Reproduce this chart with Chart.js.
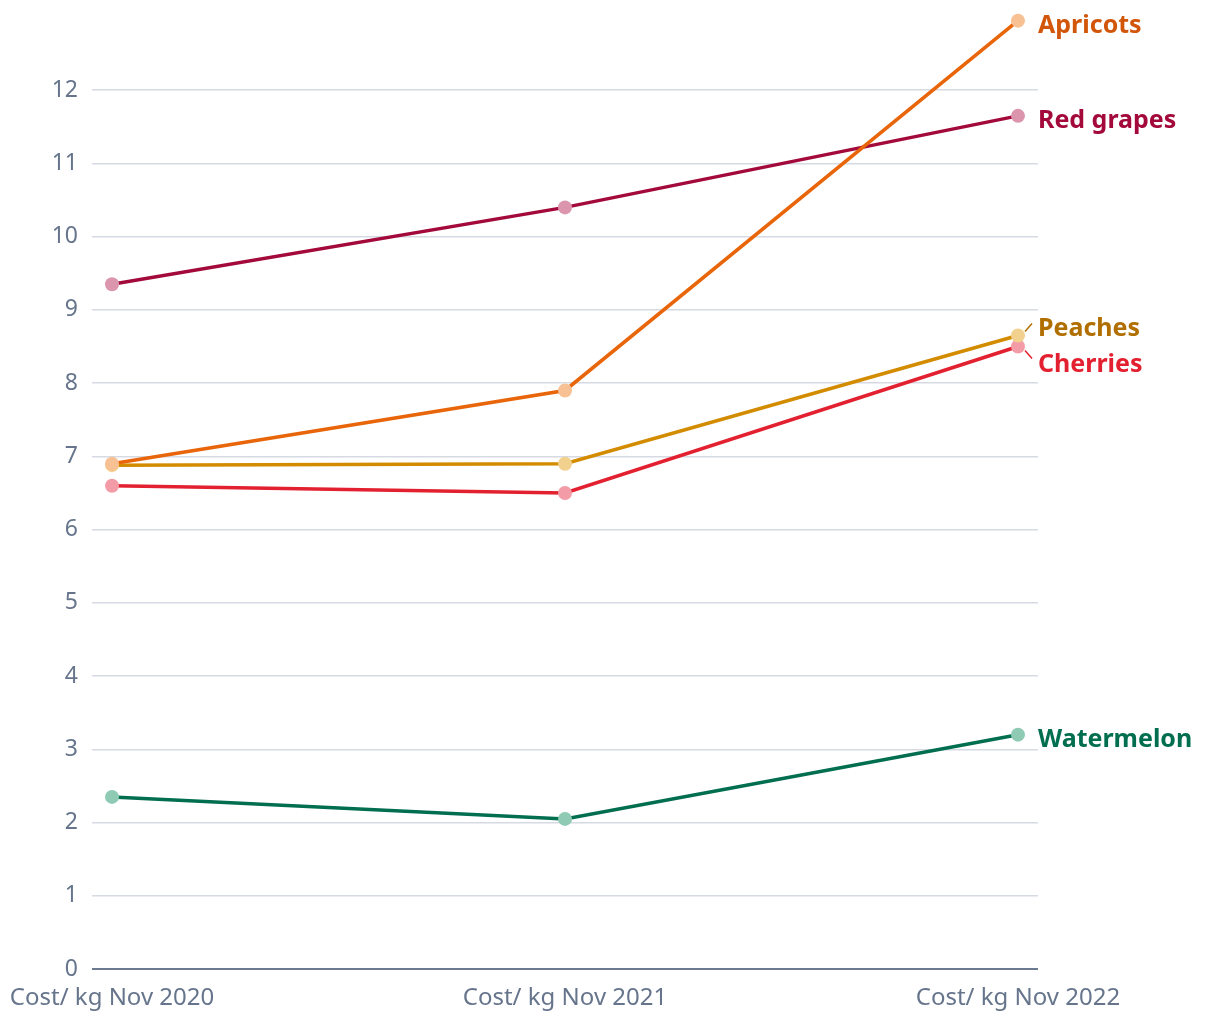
<!DOCTYPE html>
<html>
<head>
<meta charset="utf-8">
<script src="https://cdn.jsdelivr.net/npm/chart.js@4/dist/chart.umd.min.js"></script>
<style>
  html, body { margin: 0; padding: 0; background: #fff; }
  #wrap { width: 1220px; height: 1020px; }
</style>
</head>
<body>
<div id="wrap"><canvas id="chart" width="1220" height="1020"></canvas></div>
<script>
// Fruit cost per kg
const periods = ['Cost/ kg Nov 2020', 'Cost/ kg Nov 2021', 'Cost/ kg Nov 2022'];
const fruitNames = ['Apricots', 'Red grapes', 'Peaches', 'Cherries', 'Watermelon'];
const apricots = [6.9, 7.9, 12.95];
const redGrapes = [9.35, 10.4, 11.65];
const peaches = [6.88, 6.9, 8.65];
const cherries = [6.6, 6.5, 8.5];
const watermelon = [2.35, 2.05, 3.2];
const yTicks = [0, 1, 2, 3, 4, 5, 6, 7, 8, 9, 10, 11, 12];

const FONT = "'Noto Sans', sans-serif";
const TICK_COLOR = '#66758c';
const GRID_COLOR = '#d5dae3';

// line colour, point colour, label colour, label nudge
const styles = [
  { line: '#e8650a', point: '#f8c193', label: '#d2560a', dy: 5, lead: false },
  { line: '#a3093b', point: '#db95ac', label: '#a3093b', dy: 5, lead: false },
  { line: '#d38b00', point: '#f2d08e', label: '#b06f00', dy: -7, lead: true },
  { line: '#e3202f', point: '#f39ca7', label: '#e3202f', dy: 18, lead: true },
  { line: '#006e4f', point: '#8fcbb4', label: '#006e4f', dy: 5, lead: false }
];

const series = [apricots, redGrapes, peaches, cherries, watermelon];

// Labels at the end of each line
const endLabels = {
  id: 'endLabels',
  afterDatasetsDraw(chart) {
    const ctx = chart.ctx;
    ctx.save();
    ctx.font = 'bold 25px ' + FONT;
    ctx.textAlign = 'left';
    ctx.textBaseline = 'middle';
    chart.data.datasets.forEach((ds, i) => {
      const meta = chart.getDatasetMeta(i);
      const pt = meta.data[meta.data.length - 1];
      const st = styles[i];
      const ly = pt.y + st.dy;
      if (st.lead) {
        ctx.strokeStyle = st.label;
        ctx.lineWidth = 1.5;
        ctx.beginPath();
        const dir = st.dy < 0 ? -1 : 1;
        ctx.moveTo(pt.x + 7, pt.y + dir * 4);
        ctx.lineTo(pt.x + 14, pt.y + dir * 12);
        ctx.stroke();
      }
      ctx.fillStyle = st.label;
      ctx.fillText(ds.label, pt.x + 20, ly);
    });
    ctx.restore();
  }
};

const datasets = fruitNames.map((name, i) => ({
  label: name,
  data: series[i].map((v, j) => ({ x: j, y: v })),
  borderColor: styles[i].line,
  backgroundColor: styles[i].point,
  pointBackgroundColor: styles[i].point,
  pointBorderWidth: 0,
  pointRadius: 7,
  borderWidth: 3.5,
  tension: 0,
  fill: false,
  clip: false
}));

new Chart(document.getElementById('chart'), {
  type: 'line',
  data: { datasets: datasets },
  options: {
    responsive: false,
    animation: false,
    layout: { padding: { left: 0, right: 182, top: 17, bottom: 0 } },
    plugins: {
      legend: { display: false },
      tooltip: { enabled: false }
    },
    scales: {
      x: {
        type: 'linear',
        min: -0.0442,
        max: 2.0442,
        afterBuildTicks(scale) {
          scale.ticks = periods.map((p, i) => ({ value: i }));
        },
        afterFit(scale) {
          scale.height = 51;
          scale.paddingLeft = 0;
          scale.paddingRight = 0;
        },
        grid: { display: false },
        border: { display: false },
        ticks: {
          autoSkip: false,
          maxRotation: 0,
          padding: 7,
          color: TICK_COLOR,
          font: { family: FONT, size: 24 },
          callback: (v) => periods[v]
        }
      },
      y: {
        min: 0,
        max: 13,
        afterBuildTicks(scale) {
          scale.ticks = yTicks.map(v => ({ value: v }));
        },
        afterFit(scale) {
          scale.width = 92;
          scale.paddingTop = 0;
          scale.paddingBottom = 0;
        },
        border: { display: false },
        grid: {
          drawTicks: false,
          color: (c) => c.tick && c.tick.value === 0 ? '#6b7a90' : GRID_COLOR,
          lineWidth: (c) => c.tick && c.tick.value === 0 ? 2 : 1.5
        },
        ticks: {
          padding: 14,
          color: TICK_COLOR,
          font: { family: FONT, size: 23 }
        }
      }
    }
  },
  plugins: [endLabels]
});
</script>
</body>
</html>
